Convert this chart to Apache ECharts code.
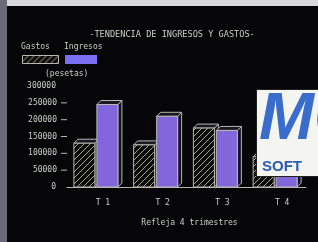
<!DOCTYPE html>
<html><head><meta charset="utf-8">
<script src="https://cdn.jsdelivr.net/npm/echarts@6/dist/echarts.min.js"></script>
<style>html,body{margin:0;padding:0;background:#060608;}#c{width:318px;height:242px;}</style>
</head><body><div id="c"></div>
<script>
const categories = ['T 1', 'T 2', 'T 3', 'T 4'];
const gastos = [130000, 125000, 175000, 90000];
const ingresos = [245000, 210000, 168000, 70000];
const yTicks = [0, 50000, 100000, 150000, 200000, 250000, 300000];
const seriesNames = ['Gastos', 'Ingresos'];

const txt = '#c9d0c4';
const purple = '#8466dc';
const edge = '#b8b8b0';
const mono = '"DejaVu Sans Mono", monospace';

function hatch() {
  const c = document.createElement('canvas');
  c.width = 6; c.height = 6;
  const g = c.getContext('2d');
  g.fillStyle = '#0a0a0a'; g.fillRect(0, 0, 6, 6);
  g.strokeStyle = '#bcbc9c'; g.lineWidth = 0.9;
  g.beginPath(); g.moveTo(0, 6); g.lineTo(6, 0); g.stroke();
  g.beginPath(); g.moveTo(-1, 1); g.lineTo(1, -1); g.stroke();
  g.beginPath(); g.moveTo(5, 7); g.lineTo(7, 5); g.stroke();
  return c;
}
const hatchPat = { image: hatch(), repeat: 'repeat' };

function bar3d(sIdx) {
  return function (params, api) {
    const base = api.coord([api.value(0), 0]);
    const top = api.coord([api.value(0), api.value(1)]);
    const w = 21, d = 4;
    const x0 = sIdx === 0 ? base[0] - 23 : base[0];
    const x1 = x0 + w;
    const yt = top[1], yb = base[1];
    const fill = sIdx === 0 ? hatchPat : purple;
    return {
      type: 'group',
      children: [
        { type: 'polygon', shape: { points: [[x1, yt], [x1 + d, yt - d], [x1 + d, yb - d], [x1, yb]] },
          style: { fill: '#141420', stroke: edge, lineWidth: 1 } },
        { type: 'polygon', shape: { points: [[x0, yt], [x0 + d, yt - d], [x1 + d, yt - d], [x1, yt]] },
          style: { fill: '#181820', stroke: edge, lineWidth: 1 } },
        { type: 'rect', shape: { x: x0, y: yt, width: w, height: yb - yt },
          style: { fill: fill, stroke: edge, lineWidth: 1 } }
      ]
    };
  };
}

const chart = echarts.init(document.getElementById('c'), null, { renderer: 'canvas' });
chart.setOption({
  backgroundColor: '#060608',
  animation: false,
  title: {
    text: '-TENDENCIA DE INGRESOS Y GASTOS-', left: 167, top: 25, textAlign: 'center',
    textStyle: { color: txt, fontFamily: mono, fontSize: 8.6, fontWeight: 'normal' }
  },
  grid: { left: 67, right: 12, top: 86, bottom: 55 },
  xAxis: {
    type: 'category', data: categories,
    name: 'Refleja 4 trimestres', nameLocation: 'middle', nameGap: 32,
    nameTextStyle: { color: txt, fontFamily: mono, fontSize: 8, padding: [0, 0, 0, 6] },
    axisLine: { lineStyle: { color: edge, width: 1 } },
    axisTick: { alignWithLabel: true, length: 3, lineStyle: { color: edge } },
    axisLabel: { color: txt, fontFamily: mono, fontSize: 8, margin: 12, padding: [0, 0, 0, 12] }
  },
  yAxis: {
    type: 'value', min: yTicks[0], max: yTicks[yTicks.length - 1], interval: yTicks[1] - yTicks[0],
    name: '(pesetas)', nameLocation: 'end', nameGap: 8,
    nameTextStyle: { color: txt, fontFamily: mono, fontSize: 8, align: 'left', padding: [0, 0, 0, -22] },
    axisLine: { show: false }, axisTick: { show: false }, splitLine: { show: false },
    axisLabel: {
      color: txt, fontFamily: mono, fontSize: 8, margin: 0,
      formatter: function (v) { return (v === 0 || v === 300000) ? v + '{s|}' : v + '{g|}{d|}'; },
      rich: {
        s: { width: 11 },
        g: { width: 4 },
        d: { width: 6, height: 1, backgroundColor: edge }
      }
    }
  },
  series: [
    { type: 'custom', name: seriesNames[0], renderItem: bar3d(0), data: categories.map((c, i) => [i, gastos[i]]), z: 2 },
    { type: 'custom', name: seriesNames[1], renderItem: bar3d(1), data: categories.map((c, i) => [i, ingresos[i]]), z: 2 }
  ],
  graphic: [
    { type: 'rect', left: 0, top: 0, shape: { width: 318, height: 6 }, style: { fill: '#d8d8dc' } },
    { type: 'rect', left: 0, top: 0, shape: { width: 7, height: 242 }, style: { fill: '#6a6a78' } },
    { type: 'text', left: 21, top: 43, style: { text: seriesNames[0], fill: txt, font: '8px ' + mono } },
    { type: 'text', left: 64, top: 43, style: { text: seriesNames[1], fill: txt, font: '8px ' + mono } },
    { type: 'rect', left: 22, top: 55, shape: { width: 36, height: 8 }, style: { fill: hatchPat, stroke: edge, lineWidth: 1 } },
    { type: 'rect', left: 65, top: 55, shape: { width: 32, height: 9 }, style: { fill: '#7a6ff0' } },
    { type: 'rect', left: 256, top: 89, z: 100, shape: { width: 70, height: 87 }, style: { fill: '#f4f4f0', stroke: '#202020', lineWidth: 1 } },
    { type: 'text', left: 259, top: 88, z: 101, style: { text: 'MC', fill: '#3a6ccc', font: 'italic bold 66px "Liberation Sans", sans-serif' } },
    { type: 'text', left: 262, top: 159, z: 101, style: { text: 'SOFT', fill: '#2a5cb8', font: 'bold 15px "Liberation Sans", sans-serif' } }
  ]
});
</script></body></html>
